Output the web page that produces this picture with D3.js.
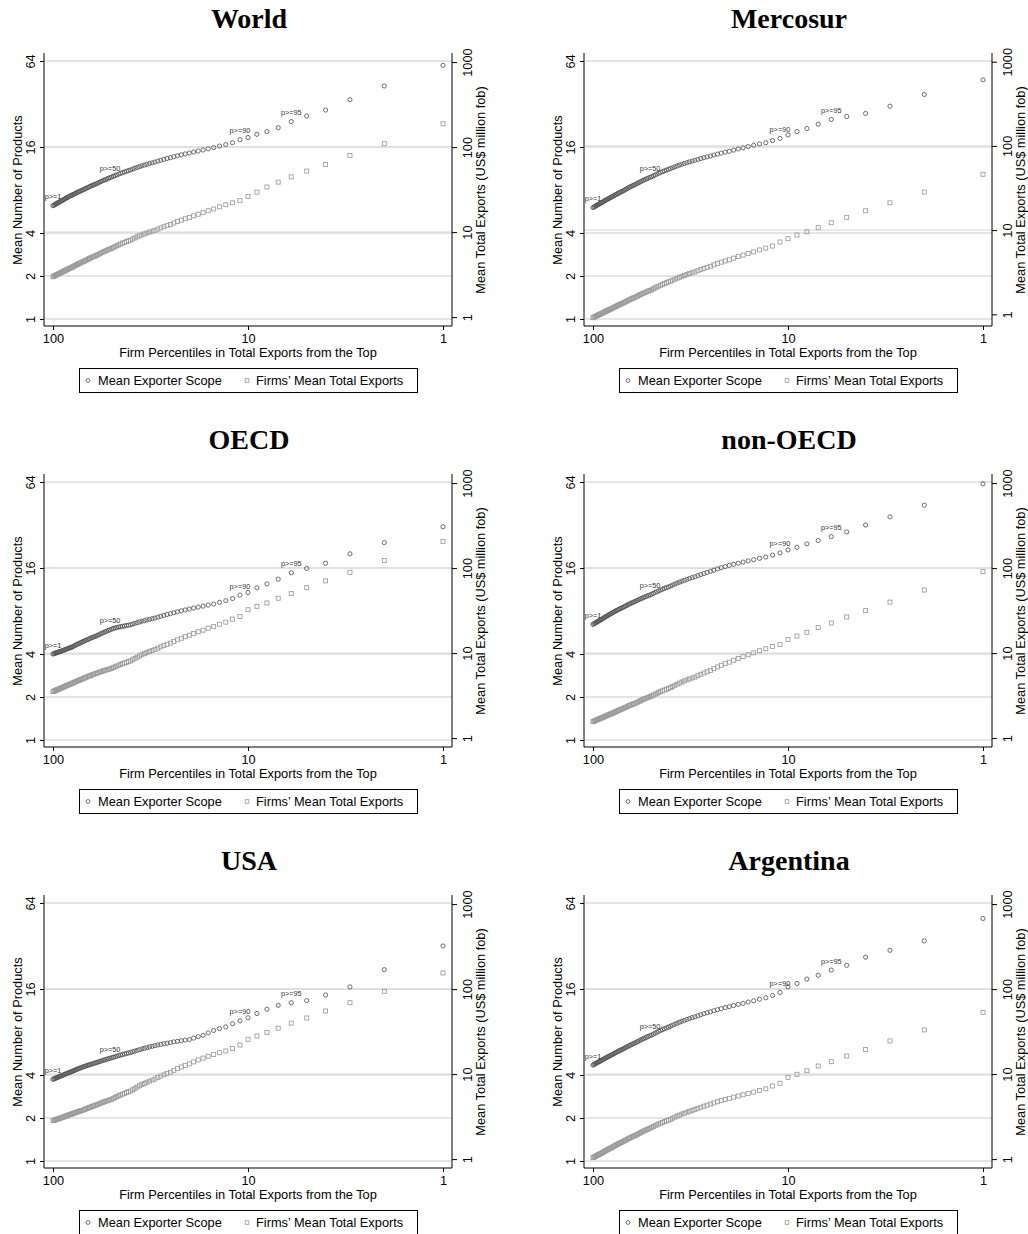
<!DOCTYPE html>
<html>
<head>
<meta charset="utf-8">
<script src="https://cdn.jsdelivr.net/npm/d3@7"></script>
<style>
body { margin: 0; background: #fff; }
svg text { font-family: "Liberation Sans", Arial, sans-serif; fill: #000; }
.title { font-family: "Liberation Serif", "Times New Roman", serif; font-weight: bold; font-size: 28px; }
.plab { fill: #333; }
</style>
</head>
<body>
<svg id="chart" width="1028" height="1234"></svg>
<script>
// percentiles from the top, left to right
var pct = d3.range(100, 0, -1);
var leftTicks = [1, 2, 4, 16, 64];
var rightTicks = [1, 10, 100, 1000];
var rightGrid = [10, 100];
var xTicks = [100, 10, 1];
var markPct = [100, 51, 11, 6];
var markText = ["p>=1", "p>=50", "p>=90", "p>=95"];
var titles = ["World", "Mercosur", "OECD", "non-OECD", "USA", "Argentina"];
var legendText = ["Mean Exporter Scope", "Firms\u2019 Mean Total Exports"];

// mean number of products, p = 100 .. 1
var worldScope = [6.21,6.26,6.31,6.36,6.42,6.47,6.53,6.58,6.63,6.69,
 6.74,6.80,6.86,6.93,6.99,7.05,7.11,7.17,7.24,7.30,
 7.36,7.43,7.49,7.56,7.63,7.70,7.76,7.83,7.90,7.96,
 8.03,8.11,8.19,8.27,8.35,8.44,8.52,8.60,8.68,8.76,
 8.84,8.94,9.04,9.15,9.25,9.35,9.45,9.55,9.66,9.76,
 9.86,9.98,10.10,10.22,10.34,10.46,10.58,10.70,10.82,10.94,
 11.06,11.21,11.36,11.51,11.66,11.81,11.96,12.10,12.25,12.40,
 12.55,12.73,12.92,13.10,13.29,13.47,13.68,13.89,14.10,14.31,
 14.52,14.76,15.00,15.24,15.55,15.85,16.24,16.62,17.15,18.0,
 18.64,19.63,20.5,21.86,24.1,26.35,29.04,34.3,42.8,59.7];
var mercosurScope = [6.02,6.07,6.12,6.18,6.23,6.28,6.33,6.38,6.44,6.49,
 6.54,6.60,6.66,6.73,6.79,6.85,6.91,6.97,7.04,7.10,
 7.16,7.23,7.31,7.38,7.45,7.53,7.60,7.67,7.74,7.82,
 7.89,7.98,8.08,8.17,8.26,8.36,8.45,8.54,8.63,8.73,
 8.82,8.93,9.04,9.15,9.26,9.37,9.48,9.59,9.70,9.81,
 9.92,10.06,10.20,10.34,10.48,10.62,10.75,10.89,11.03,11.17,
 11.31,11.47,11.63,11.79,11.95,12.11,12.27,12.43,12.59,12.75,
 12.91,13.09,13.28,13.46,13.65,13.83,14.05,14.27,14.49,14.71,
 14.93,15.21,15.50,15.78,16.12,16.45,16.80,17.15,17.75,18.38,
 19.43,20.53,21.56,23.1,24.93,26.17,27.47,30.9,37.3,47.2];
var oecdScope = [4.00,4.02,4.04,4.06,4.08,4.10,4.12,4.14,4.16,4.18,
 4.20,4.23,4.25,4.28,4.31,4.34,4.36,4.39,4.42,4.44,
 4.47,4.51,4.55,4.60,4.64,4.68,4.72,4.76,4.81,4.85,
 4.89,4.94,4.98,5.03,5.07,5.12,5.17,5.21,5.26,5.30,
 5.35,5.41,5.47,5.54,5.60,5.66,5.72,5.78,5.85,5.91,
 5.97,6.03,6.09,6.14,6.18,6.21,6.25,6.29,6.33,6.37,
 6.41,6.48,6.56,6.63,6.70,6.78,6.85,6.92,6.99,7.07,
 7.14,7.24,7.35,7.45,7.56,7.66,7.78,7.90,8.02,8.14,
 8.26,8.39,8.52,8.65,8.80,8.94,9.20,9.45,9.78,10.34,
 10.78,11.63,12.38,13.36,14.83,15.89,17.27,20.11,24.08,31.1];
var nonOecdScope = [6.45,6.51,6.56,6.62,6.67,6.73,6.79,6.84,6.90,6.95,
 7.01,7.08,7.15,7.23,7.30,7.37,7.44,7.51,7.59,7.66,
 7.73,7.81,7.88,7.96,8.04,8.12,8.19,8.27,8.35,8.42,
 8.50,8.59,8.68,8.77,8.86,8.96,9.05,9.14,9.23,9.32,
 9.41,9.52,9.63,9.73,9.84,9.95,10.05,10.16,10.27,10.37,
 10.48,10.63,10.78,10.92,11.07,11.22,11.37,11.52,11.66,11.81,
 11.96,12.15,12.35,12.54,12.74,12.93,13.12,13.32,13.51,13.71,
 13.90,14.15,14.40,14.64,14.89,15.14,15.45,15.76,16.06,16.37,
 16.68,16.98,17.29,17.59,17.95,18.30,18.70,19.11,19.70,20.39,
 21.41,22.32,23.59,24.93,26.54,28.64,32.0,36.5,44.0,62.2];
var usaScope = [3.73,3.75,3.78,3.80,3.82,3.85,3.87,3.89,3.91,3.94,
 3.96,3.99,4.01,4.04,4.07,4.10,4.12,4.15,4.18,4.20,
 4.23,4.26,4.30,4.33,4.36,4.40,4.43,4.46,4.49,4.53,
 4.56,4.59,4.62,4.66,4.69,4.72,4.75,4.78,4.82,4.85,
 4.88,4.92,4.96,5.00,5.04,5.08,5.12,5.16,5.20,5.24,
 5.28,5.33,5.37,5.42,5.47,5.52,5.56,5.61,5.66,5.70,
 5.75,5.82,5.88,5.95,6.02,6.09,6.15,6.22,6.29,6.35,
 6.42,6.49,6.55,6.62,6.68,6.75,6.82,6.89,6.95,7.02,
 7.09,7.25,7.42,7.58,7.89,8.20,8.45,8.69,9.13,9.58,
 10.06,10.78,11.55,12.30,12.82,13.27,14.52,16.56,21.86,32.0];
var argentinaScope = [4.69,4.73,4.77,4.81,4.85,4.89,4.92,4.96,5.00,5.04,
 5.08,5.13,5.17,5.22,5.26,5.31,5.36,5.40,5.45,5.49,
 5.54,5.60,5.65,5.71,5.76,5.82,5.87,5.93,5.98,6.04,
 6.09,6.16,6.23,6.29,6.36,6.43,6.50,6.57,6.63,6.70,
 6.77,6.86,6.94,7.03,7.11,7.20,7.28,7.37,7.45,7.54,
 7.62,7.74,7.85,7.97,8.09,8.21,8.32,8.44,8.56,8.67,
 8.79,8.93,9.08,9.22,9.37,9.51,9.65,9.80,9.94,10.09,
 10.23,10.40,10.57,10.74,10.91,11.08,11.27,11.46,11.66,11.85,
 12.04,12.26,12.48,12.70,12.97,13.23,13.56,13.88,14.42,15.14,
 16.56,17.51,18.77,19.97,21.71,23.43,26.72,29.86,34.78,49.87];

// mean total exports, US$ million fob, p = 100 .. 1
var worldExports = [2.98,3.02,3.06,3.10,3.14,3.18,3.22,3.25,3.29,3.33,
 3.37,3.42,3.47,3.51,3.56,3.61,3.66,3.71,3.75,3.80,
 3.85,3.91,3.98,4.04,4.11,4.17,4.23,4.30,4.36,4.43,
 4.49,4.57,4.65,4.73,4.81,4.90,4.98,5.06,5.14,5.22,
 5.30,5.41,5.53,5.64,5.76,5.87,5.98,6.10,6.21,6.33,
 6.44,6.60,6.76,6.92,7.08,7.25,7.41,7.57,7.73,7.89,
 8.05,8.30,8.54,8.79,9.03,9.28,9.52,9.77,10.01,10.26,
 10.50,10.85,11.21,11.56,11.92,12.27,12.79,13.31,13.82,14.34,
 14.86,15.55,16.25,16.94,17.83,18.71,19.85,20.99,22.13,23.44,
 26.3,29.5,33.9,38.7,44.7,52.2,62.5,79.8,109.6,187.9];
var mercosurExports = [0.912,0.924,0.935,0.947,0.958,0.970,0.982,0.993,1.005,1.016,
 1.028,1.042,1.056,1.071,1.085,1.100,1.114,1.129,1.143,1.158,
 1.172,1.191,1.210,1.229,1.248,1.267,1.285,1.304,1.323,1.342,
 1.361,1.387,1.412,1.438,1.464,1.490,1.515,1.541,1.567,1.592,
 1.618,1.652,1.686,1.720,1.754,1.789,1.823,1.857,1.891,1.925,
 1.959,2.011,2.063,2.114,2.166,2.218,2.270,2.322,2.373,2.425,
 2.477,2.55,2.62,2.69,2.76,2.83,2.90,2.98,3.05,3.12,
 3.19,3.30,3.40,3.51,3.61,3.72,3.87,4.01,4.16,4.30,
 4.45,4.65,4.85,5.05,5.29,5.52,5.82,6.11,6.47,7.23,
 7.91,8.75,9.57,10.79,12.25,14.19,16.98,21.13,28.31,46.03];
var oecdExports = [3.52,3.56,3.60,3.64,3.68,3.72,3.75,3.79,3.83,3.87,
 3.91,3.96,4.01,4.05,4.10,4.15,4.20,4.25,4.29,4.34,
 4.39,4.45,4.51,4.58,4.64,4.70,4.76,4.82,4.89,4.95,
 5.01,5.09,5.16,5.24,5.32,5.40,5.47,5.55,5.63,5.70,
 5.78,5.86,5.95,6.03,6.11,6.20,6.28,6.36,6.44,6.53,
 6.61,6.76,6.91,7.05,7.20,7.35,7.50,7.65,7.79,7.94,
 8.09,8.38,8.68,8.97,9.26,9.56,9.85,10.14,10.43,10.73,
 11.02,11.43,11.85,12.26,12.68,13.09,13.72,14.34,14.97,15.59,
 16.22,17.02,17.82,18.62,19.62,20.61,21.87,23.12,25.12,26.92,
 32.36,35.48,38.9,44.16,50.12,58.88,70.79,89.13,123.0,206.5];
var nonOecdExports = [1.560,1.577,1.595,1.612,1.630,1.647,1.664,1.682,1.699,1.717,
 1.734,1.756,1.777,1.799,1.820,1.842,1.864,1.885,1.907,1.928,
 1.950,1.978,2.006,2.033,2.061,2.089,2.117,2.145,2.172,2.200,
 2.228,2.265,2.302,2.340,2.377,2.414,2.451,2.488,2.526,2.563,
 2.600,2.653,2.706,2.760,2.813,2.867,2.920,2.973,3.026,3.080,
 3.133,3.21,3.29,3.37,3.45,3.53,3.60,3.68,3.76,3.84,
 3.92,4.05,4.18,4.31,4.44,4.57,4.71,4.84,4.97,5.10,
 5.22,5.43,5.63,5.83,6.03,6.24,6.56,6.88,7.20,7.51,
 7.83,8.25,8.66,9.08,9.57,10.07,10.66,11.25,11.97,12.59,
 14.45,15.85,17.58,19.95,22.59,26.61,31.62,39.81,55.21,90.78];
var usaExports = [2.83,2.86,2.88,2.91,2.93,2.96,2.98,3.01,3.03,3.06,
 3.08,3.11,3.14,3.18,3.21,3.24,3.27,3.30,3.34,3.37,
 3.40,3.44,3.48,3.51,3.55,3.59,3.63,3.67,3.70,3.74,
 3.78,3.83,3.89,3.94,4.00,4.05,4.10,4.16,4.21,4.27,
 4.32,4.39,4.47,4.54,4.62,4.69,4.76,4.84,4.91,4.99,
 5.06,5.19,5.31,5.44,5.56,5.69,5.81,5.94,6.06,6.19,
 6.31,6.55,6.80,7.04,7.29,7.53,7.77,8.02,8.26,8.51,
 8.75,9.11,9.47,9.82,10.18,10.54,11.07,11.60,12.12,12.65,
 13.18,13.93,14.67,15.42,16.20,16.98,17.85,18.71,19.95,21.98,
 25.70,28.05,30.90,34.67,39.81,45.71,55.21,69.18,94.19,154.9];
var argentinaExports = [1.040,1.054,1.068,1.082,1.096,1.110,1.124,1.138,1.152,1.166,
 1.180,1.199,1.218,1.237,1.256,1.275,1.294,1.313,1.332,1.351,
 1.370,1.394,1.418,1.442,1.466,1.490,1.514,1.538,1.562,1.586,
 1.610,1.641,1.672,1.703,1.734,1.765,1.796,1.827,1.858,1.889,
 1.920,1.963,2.006,2.049,2.092,2.135,2.178,2.221,2.264,2.307,
 2.35,2.41,2.47,2.53,2.59,2.65,2.70,2.76,2.82,2.88,
 2.94,3.03,3.12,3.21,3.29,3.39,3.47,3.56,3.65,3.74,
 3.83,3.95,4.07,4.19,4.31,4.43,4.58,4.73,4.88,5.03,
 5.18,5.36,5.53,5.71,5.93,6.15,6.43,6.71,7.24,7.80,
 9.16,9.95,10.96,12.45,14.0,16.33,19.50,24.55,33.11,53.33];

// right-axis range of each panel (US$ million)
var rightDomains = [[0.95, 1030], [0.88, 1020], [0.95, 1030], [0.95, 1030], [0.95, 1030], [0.95, 1030]];

var scopes = [worldScope, mercosurScope, oecdScope, nonOecdScope, usaScope, argentinaScope];
var exportsAll = [worldExports, mercosurExports, oecdExports, nonOecdExports, usaExports, argentinaExports];

var svg = d3.select("#chart");
var circleCol = "#555555", squareCol = "#9a9a9a", gridCol = "#dcdcdc";

titles.forEach(function(title, i) {
  var col = i % 2, row = Math.floor(i / 2);
  var g = svg.append("g").attr("transform", "translate(" + (540 * col) + "," + (421 * row) + ")");

  var x = d3.scaleLog().domain([100, 1]).range([53, 443]);
  var yL = d3.scaleLog().base(2).domain([1, 64]).range([319, 61]);
  var yR = d3.scaleLog().domain(rightDomains[i]).range([319, 61]);

  // title
  g.append("text").attr("class", "title").attr("x", 249).attr("y", 28)
    .attr("text-anchor", "middle").text(title);

  // gridlines
  g.selectAll(".gl").data(leftTicks).join("line").attr("class", "gl")
    .attr("x1", 45).attr("x2", 452).attr("y1", d => yL(d)).attr("y2", d => yL(d))
    .attr("stroke", gridCol).attr("stroke-width", 1.3);
  g.selectAll(".gr").data(rightGrid).join("line").attr("class", "gr")
    .attr("x1", 45).attr("x2", 452).attr("y1", d => yR(d)).attr("y2", d => yR(d))
    .attr("stroke", gridCol).attr("stroke-width", 1.3);

  // axes
  var ax = g.append("g").attr("transform", "translate(44,0)")
    .call(d3.axisLeft(yL).tickValues(leftTicks).tickSize(4).tickFormat(d => String(d)));
  ax.select(".domain").remove();
  ax.selectAll("text").attr("x", null).attr("dy", null).attr("y", -9)
    .attr("transform", "rotate(-90)").attr("text-anchor", "middle");

  var ar = g.append("g").attr("transform", "translate(452,0)")
    .call(d3.axisRight(yR).tickValues(rightTicks).tickSize(5).tickFormat(d => String(d)));
  ar.select(".domain").remove();
  ar.selectAll("text").attr("x", null).attr("dy", null).attr("y", 19.5)
    .attr("transform", "rotate(-90)").attr("text-anchor", "middle");

  var axb = g.append("g").attr("transform", "translate(0,326)")
    .call(d3.axisBottom(x).tickValues(xTicks).tickSize(4).tickFormat(d => String(d)));
  axb.select(".domain").remove();
  axb.selectAll("text").attr("dy", null).attr("y", 17);

  g.selectAll(".tick text").attr("font-size", 12.8).attr("font-family", null);
  g.selectAll(".tick line").attr("stroke", "#000");

  g.append("path").attr("d", "M44,53V326H452V53").attr("fill", "none").attr("stroke", "#000").attr("stroke-width", 1);

  // axis titles
  g.append("text").attr("transform", "translate(21.5,190) rotate(-90)").attr("text-anchor", "middle")
    .attr("font-size", 12.8).text("Mean Number of Products");
  g.append("text").attr("transform", "translate(484.5,190) rotate(-90)").attr("text-anchor", "middle")
    .attr("font-size", 12.8).text("Mean Total Exports (US$ million fob)");
  g.append("text").attr("x", 248).attr("y", 357).attr("text-anchor", "middle")
    .attr("font-size", 12.8).text("Firm Percentiles in Total Exports from the Top");

  // markers
  var sc = scopes[i], ex = exportsAll[i];
  g.append("g").selectAll("circle").data(sc).join("circle")
    .attr("cx", (d, j) => x(pct[j])).attr("cy", d => yL(d)).attr("r", 2.1)
    .attr("fill", "none").attr("stroke", circleCol).attr("stroke-width", 0.85);
  g.append("g").selectAll("rect").data(ex).join("rect")
    .attr("x", (d, j) => x(pct[j]) - 2).attr("y", d => yR(d) - 2)
    .attr("width", 4).attr("height", 4)
    .attr("fill", "none").attr("stroke", squareCol).attr("stroke-width", 0.85);

  // percentile labels on the scope series
  g.append("g").selectAll("text").data(markPct).join("text").attr("class", "plab")
    .attr("x", p => x(p)).attr("y", p => yL(sc[100 - p]) - 6.5)
    .attr("text-anchor", "middle").attr("font-size", 7.3)
    .text((p, k) => markText[k]);

  // legend
  var lg = g.append("g");
  lg.append("rect").attr("x", 79.5).attr("y", 368.5).attr("width", 338).attr("height", 24)
    .attr("fill", "#fff").attr("stroke", "#000").attr("stroke-width", 1);
  lg.append("circle").attr("cx", 88).attr("cy", 380.5).attr("r", 1.9)
    .attr("fill", "none").attr("stroke", circleCol).attr("stroke-width", 0.85);
  lg.append("text").attr("x", 98).attr("y", 385).attr("font-size", 12.8).text(legendText[0]);
  lg.append("rect").attr("x", 245.2).attr("y", 378.7).attr("width", 3.6).attr("height", 3.6)
    .attr("fill", "none").attr("stroke", squareCol).attr("stroke-width", 0.85);
  lg.append("text").attr("x", 256).attr("y", 385).attr("font-size", 12.8).text(legendText[1]);
});
</script>
</body>
</html>
